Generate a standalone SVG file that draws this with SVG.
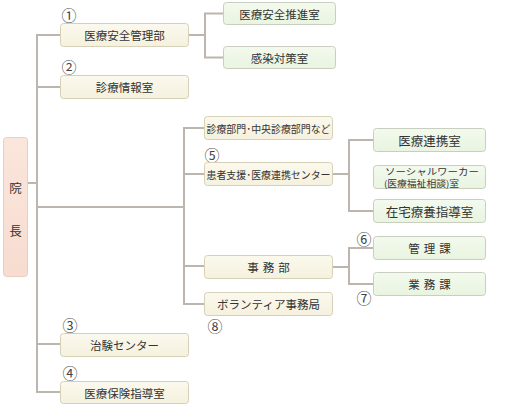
<svg xmlns="http://www.w3.org/2000/svg" width="523" height="405" viewBox="0 0 523 405">
<defs>
<linearGradient id="gy" x1="0" y1="0" x2="0" y2="1"><stop offset="0" stop-color="#fbf9ee"/><stop offset="1" stop-color="#f5f1de"/></linearGradient>
<linearGradient id="gg" x1="0" y1="0" x2="0" y2="1"><stop offset="0" stop-color="#f3faee"/><stop offset="1" stop-color="#e9f4e0"/></linearGradient>
<linearGradient id="gp" x1="0" y1="0" x2="0" y2="1"><stop offset="0" stop-color="#fae6dc"/><stop offset="1" stop-color="#f7dccf"/></linearGradient>
</defs>
<style>
.y{fill:url(#gy);stroke:#d6d0b8;stroke-width:1}
.g{fill:url(#gg);stroke:#c9cfc0;stroke-width:1}
.p{fill:url(#gp);stroke:#e8cfc2;stroke-width:1}
text{font-family:"Noto Sans CJK JP","Noto Sans CJK SC",sans-serif;fill:#333;text-anchor:middle;dominant-baseline:central}
.t{font-size:11.5px}
.tg{font-size:12.5px}
.s{font-size:9px}
.w{font-size:10.5px}
.n{font-size:15px;fill:#444}
.c line,.c polyline{stroke:#bdb6ae;stroke-width:2;fill:none}
</style>
<g class="c" id="connectors">
<line x1="37" y1="34" x2="37" y2="393"/>
<line x1="27" y1="183" x2="37" y2="183"/>
<line x1="37" y1="35" x2="60" y2="35"/>
<line x1="37" y1="87" x2="60" y2="87"/>
<line x1="37" y1="344" x2="60" y2="344"/>
<line x1="37" y1="392" x2="60" y2="392"/>
<line x1="37" y1="207" x2="184" y2="207"/>
<line x1="184" y1="127" x2="184" y2="305"/>
<line x1="184" y1="128" x2="204" y2="128"/>
<line x1="184" y1="174" x2="204" y2="174"/>
<line x1="184" y1="266" x2="204" y2="266"/>
<line x1="184" y1="304" x2="204" y2="304"/>
<line x1="189" y1="35" x2="205" y2="35"/>
<polyline points="223,13.5 205,13.5 205,57.5 223,57.5"/>
<line x1="333" y1="174" x2="349" y2="174"/>
<polyline points="373,140 349,140 349,211 373,211"/>
<line x1="333" y1="267" x2="349" y2="267"/>
<polyline points="373,248 349,248 349,284 373,284"/>
</g>
<g id="incho"><rect class="p" x="3.5" y="137.5" width="24" height="139" rx="3"/><text class="tg" x="15.5" y="187">院</text><text class="tg" x="15.5" y="230">長</text></g>
<g id="n1"><text class="n" x="69" y="14">①</text><rect class="y" x="60.5" y="23.5" width="128" height="23" rx="3"/><text class="t" x="124.5" y="35">医療安全管理部</text></g>
<g id="n1a"><rect class="g" x="223.5" y="2.5" width="112" height="22" rx="3"/><text class="t" x="279.5" y="13.5">医療安全推進室</text></g>
<g id="n1b"><rect class="g" x="223.5" y="46.5" width="112" height="22" rx="3"/><text class="t" x="279.5" y="57.5">感染対策室</text></g>
<g id="n2"><text class="n" x="69" y="66">②</text><rect class="y" x="60.5" y="75.5" width="128" height="23" rx="3"/><text class="t" x="124.5" y="87">診療情報室</text></g>
<g id="n9"><rect class="y" x="204.5" y="116.5" width="128" height="23" rx="3"/><text class="w" x="268.5" y="128" textLength="124" lengthAdjust="spacingAndGlyphs">診療部門･中央診療部門など</text></g>
<g id="n5"><text class="n" x="212" y="154">⑤</text><rect class="y" x="204.5" y="162.5" width="128" height="23" rx="3"/><text class="w" x="268.5" y="174" textLength="124" lengthAdjust="spacingAndGlyphs">患者支援･医療連携センター</text></g>
<g id="n5a"><rect class="g" x="373.5" y="128.5" width="112" height="23" rx="3"/><text class="tg" x="429.5" y="140">医療連携室</text></g>
<g id="n5b"><rect class="g" x="373.5" y="165.5" width="112" height="23" rx="3"/><text class="s" x="432" y="171" textLength="94" lengthAdjust="spacingAndGlyphs">ソーシャルワーカー</text><text class="s" x="421.5" y="183" textLength="75" lengthAdjust="spacingAndGlyphs">(医療福祉相談)室</text></g>
<g id="n5c"><rect class="g" x="373.5" y="199.5" width="112" height="23" rx="3"/><text class="tg" x="429.5" y="211">在宅療養指導室</text></g>
<g id="n10"><rect class="y" x="204.5" y="255.5" width="128" height="23" rx="3"/><text class="t" x="270.5" y="267" style="letter-spacing:4px">事務部</text></g>
<g id="n6"><text class="n" x="364" y="238">⑥</text><rect class="g" x="373.5" y="236.5" width="112" height="23" rx="3"/><text class="t" x="431.5" y="248" style="letter-spacing:4px">管理課</text></g>
<g id="n7"><text class="n" x="364" y="297">⑦</text><rect class="g" x="373.5" y="272.5" width="112" height="23" rx="3"/><text class="t" x="431.5" y="284" style="letter-spacing:4px">業務課</text></g>
<g id="n8"><rect class="y" x="204.5" y="292.5" width="128" height="23" rx="3"/><text class="t" x="268.5" y="304">ボランティア事務局</text><text class="n" x="215" y="325">⑧</text></g>
<g id="n3"><text class="n" x="70" y="324">③</text><rect class="y" x="60.5" y="333.5" width="128" height="23" rx="3"/><text class="t" x="124.5" y="345">治験センター</text></g>
<g id="n4"><text class="n" x="70" y="372">④</text><rect class="y" x="60.5" y="381.5" width="128" height="22" rx="3"/><text class="t" x="124.5" y="392.5">医療保険指導室</text></g>
</svg>
